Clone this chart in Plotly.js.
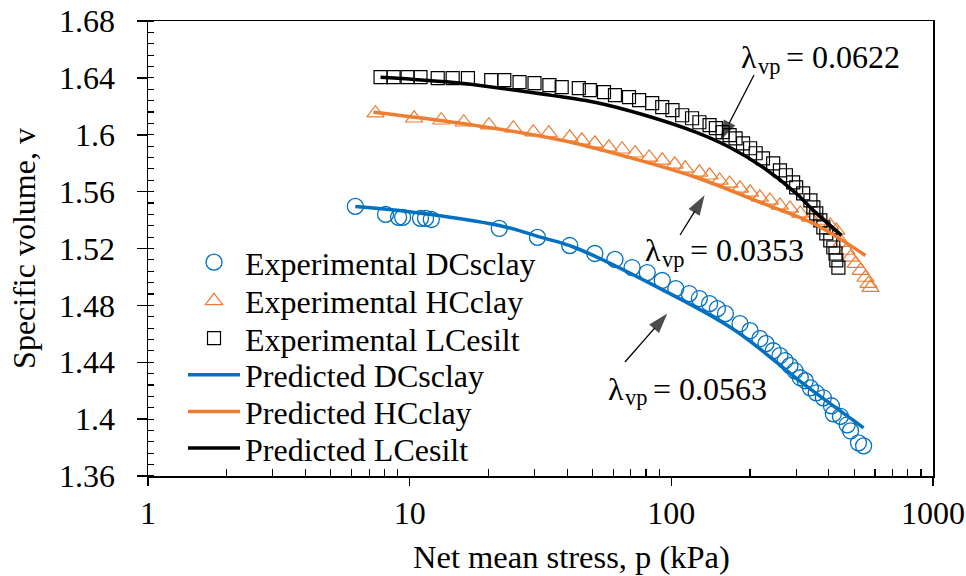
<!DOCTYPE html>
<html>
<head>
<meta charset="utf-8">
<script src="https://cdn.plot.ly/plotly-3.0.1.min.js"></script>
<style>html,body{margin:0;padding:0;background:#fff}</style>
</head>
<body>
<div id="chart" style="width:966px;height:576px"></div>
<script>
// ---- Data ----
const pDCexp = [6.20, 8.09, 9.07, 9.40, 11.0, 11.5, 12.1, 22.0, 30.8, 40.9, 51.0, 60.9, 70.8, 80.9, 92.3, 104, 117, 128, 140, 150, 161, 183, 200, 218, 230, 245, 260, 272, 284, 297, 311, 325, 340, 358, 381, 409, 416, 443, 470, 484, 519, 543];
const vDCexp = [1.5496, 1.5440, 1.5419, 1.5419, 1.5412, 1.5412, 1.5404, 1.5341, 1.5278, 1.5221, 1.5165, 1.5123, 1.5066, 1.5031, 1.4975, 1.4918, 1.4883, 1.4848, 1.4812, 1.4777, 1.4742, 1.4671, 1.4622, 1.4566, 1.4531, 1.4481, 1.4446, 1.4411, 1.4376, 1.4340, 1.4291, 1.4270, 1.4220, 1.4185, 1.4150, 1.4094, 1.4037, 1.4020, 1.3960, 1.3917, 1.3833, 1.3812];

const pHCexp = [7.40, 10.4, 13.2, 16.1, 20.1, 24.9, 29.7, 34.0, 40.9, 45.5, 51.0, 57.7, 64.8, 72.7, 82.3, 92.3, 103, 113, 128, 140, 153, 167, 183, 200, 218, 238, 260, 284, 311, 340, 371, 405, 427, 447, 467, 484, 506, 529, 552, 567, 577];
const vHCexp = [1.6152, 1.6116, 1.6102, 1.6088, 1.6067, 1.6046, 1.6018, 1.6011, 1.5982, 1.5961, 1.5940, 1.5912, 1.5898, 1.5870, 1.5841, 1.5820, 1.5792, 1.5764, 1.5736, 1.5715, 1.5679, 1.5658, 1.5623, 1.5595, 1.5560, 1.5538, 1.5503, 1.5482, 1.5447, 1.5419, 1.5397, 1.5362, 1.5327, 1.5242, 1.5186, 1.5137, 1.5094, 1.5045, 1.4996, 1.4953, 1.4925];

const pLCexp = [7.74, 8.68, 9.82, 11.0, 12.8, 14.6, 16.7, 20.5, 23.0, 26.3, 30.0, 34.2, 38.1, 44.3, 48.8, 55.3, 60.9, 68.9, 75.3, 84.5, 92.3, 101, 110, 120, 128, 140, 148, 157, 167, 176, 188, 200, 210, 224, 245, 260, 274, 292, 300, 319, 340, 349, 358, 371, 381, 391, 405, 416, 424, 427, 435];
const vLCexp = [1.6405, 1.6405, 1.6405, 1.6405, 1.6398, 1.6398, 1.6398, 1.6384, 1.6384, 1.6370, 1.6363, 1.6349, 1.6335, 1.6328, 1.6314, 1.6300, 1.6278, 1.6264, 1.6243, 1.6222, 1.6194, 1.6173, 1.6137, 1.6116, 1.6088, 1.6067, 1.6046, 1.6018, 1.5997, 1.5975, 1.5940, 1.5905, 1.5870, 1.5834, 1.5799, 1.5750, 1.5715, 1.5665, 1.5630, 1.5588, 1.5538, 1.5489, 1.5447, 1.5398, 1.5348, 1.5306, 1.5257, 1.5207, 1.5165, 1.5116, 1.5066];

const pDCpred = [6.2, 9.8, 22.0, 31.9, 42.7, 90.7, 176, 319, 543];
const vDCpred = [1.5496, 1.5461, 1.5362, 1.5278, 1.5207, 1.4918, 1.4622, 1.4249, 1.3939];

const pHCpred = [7.27, 15.7, 38.1, 68.9, 124, 224, 349, 552];
const vHCpred = [1.6159, 1.6081, 1.5961, 1.5841, 1.5701, 1.5517, 1.5376, 1.5151];

const pLCpred = [7.74, 15.7, 28.4, 51.0, 79.4, 124, 167, 224, 300, 349, 447];
const vLCpred = [1.6405, 1.6363, 1.6300, 1.6229, 1.6137, 1.6018, 1.5912, 1.5771, 1.5588, 1.5468, 1.5292];

const seriesNames = ['Experimental DCsclay', 'Experimental HCclay', 'Experimental LCesilt',
                     'Predicted DCsclay', 'Predicted HCclay', 'Predicted LCesilt'];

const yTickVals = [1.36, 1.40, 1.44, 1.48, 1.52, 1.56, 1.60, 1.64, 1.68];
const yTickText = ['1.36', '1.4', '1.44', '1.48', '1.52', '1.56', '1.6', '1.64', '1.68'];
const xTickVals = [1, 10, 100, 1000];
const xTickText = ['1', '10', '100', '1000'];
const xMinorVals = [2, 3, 4, 5, 6, 7, 8, 9, 20, 30, 40, 50, 60, 70, 80, 90, 200, 300, 400, 500, 600, 700, 800, 900];

const xTitle = 'Net mean stress, p (kPa)';
const yTitle = 'Specific volume, v';

// slope labels: λ + subscript "vp" + value
const lambdaSym = ['λ', 'λ', 'λ'];
const lambdaSub = ['vp', 'vp', 'vp'];
const lambdaVal = ['= 0.0622', '= 0.0353', '= 0.0563'];
const lambdaP = [181, 78.1, 56.3];
const lambdaV = [1.6546, 1.5186, 1.4213];
// arrows pointing at the predicted curves (tail -> tip)
const arrowTailP = [207, 108, 66.5];
const arrowTailV = [1.6420, 1.5295, 1.4402];
const arrowTipP = [154, 134, 96.5];
const arrowTipV = [1.5961, 1.5574, 1.4742];

// ---- Styling ----
const FONT = 'Liberation Serif, Times New Roman, serif';
const BLUE = '#0070C0', ORANGE = '#ED7D31', BLACK = '#000000';

// legend rows (one single-entry legend per row so the row pitch matches the reference)
const legendIds = ['legend', 'legend2', 'legend3', 'legend4', 'legend5', 'legend6'];
const legendRowY = [0.5300, 0.4451, 0.3631, 0.2824, 0.2018, 0.1213];

const traces = [
  {x: pDCexp, y: vDCexp, name: seriesNames[0], type: 'scatter', mode: 'markers', legend: legendIds[0],
   marker: {symbol: 'circle-open', size: 16, color: BLUE, line: {width: 1.3, color: BLUE}}},
  {x: pHCexp, y: vHCexp, name: seriesNames[1], type: 'scatter', mode: 'markers', legend: legendIds[1],
   marker: {symbol: 'triangle-up-open', size: 15, color: ORANGE, line: {width: 1.2, color: ORANGE}}},
  {x: pLCexp, y: vLCexp, name: seriesNames[2], type: 'scatter', mode: 'markers', legend: legendIds[2],
   marker: {symbol: 'square-open', size: 13, color: BLACK, line: {width: 1.2, color: BLACK}}},
  {x: pDCpred, y: vDCpred, name: seriesNames[3], type: 'scatter', mode: 'lines', legend: legendIds[3],
   line: {color: BLUE, width: 3.5, shape: 'spline', smoothing: 1}},
  {x: pHCpred, y: vHCpred, name: seriesNames[4], type: 'scatter', mode: 'lines', legend: legendIds[4],
   line: {color: ORANGE, width: 3.5, shape: 'spline', smoothing: 1}},
  {x: pLCpred, y: vLCpred, name: seriesNames[5], type: 'scatter', mode: 'lines', legend: legendIds[5],
   line: {color: BLACK, width: 3.5, shape: 'spline', smoothing: 1}}
];

// arrow traces: a thin line with an arrow-head marker at the tip
for (let i = 0; i < arrowTipP.length; i++) {
  traces.push({
    x: [arrowTailP[i], arrowTipP[i]], y: [arrowTailV[i], arrowTipV[i]],
    type: 'scatter', mode: 'lines+markers', showlegend: false, hoverinfo: 'skip',
    line: {color: BLACK, width: 1.3},
    marker: {symbol: 'arrow', angleref: 'previous', size: [0, 21], color: BLACK,
             line: {width: 0}}
  });
}

const annotations = [];
for (let i = 0; i < lambdaSym.length; i++) {
  const base = {x: Math.log10(lambdaP[i]), y: lambdaV[i], xref: 'x', yref: 'y',
                showarrow: false, xanchor: 'left', yanchor: 'middle'};
  annotations.push(Object.assign({}, base, {
    text: lambdaSym[i], font: {family: FONT, size: 32, color: '#000'}}));
  annotations.push(Object.assign({}, base, {
    text: lambdaSub[i], xshift: 17, yshift: -9,
    font: {family: FONT, size: 22.4, color: '#000'}}));
  annotations.push(Object.assign({}, base, {
    text: lambdaVal[i], xshift: 45,
    font: {family: FONT, size: 32, color: '#000'}}));
}
// x-axis title (placed slightly right of centre, as in the reference)
annotations.push({
  x: 0.539, y: -0.178, xref: 'paper', yref: 'paper',
  text: xTitle, showarrow: false, xanchor: 'center', yanchor: 'middle',
  font: {family: FONT, size: 32.5, color: '#000'}
});

const layout = {
  width: 966, height: 576,
  margin: {l: 148, r: 33, t: 21, b: 100},
  paper_bgcolor: '#fff', plot_bgcolor: '#fff',
  font: {family: FONT, size: 30, color: '#000'},
  showlegend: true,
  xaxis: {
    type: 'log', range: [0, 3],
    tickmode: 'array', tickvals: xTickVals, ticktext: xTickText,
    ticks: 'outside', ticklen: 8, tickwidth: 1.5, tickcolor: '#000',
    ticklabelstandoff: 0,
    showline: true, linecolor: '#000', linewidth: 1.5, mirror: true,
    showgrid: false, zeroline: false,
    tickfont: {family: FONT, size: 32, color: '#000'},
    minor: {tickmode: 'array', tickvals: xMinorVals, ticks: 'inside', ticklen: 7,
            tickwidth: 1.2, tickcolor: '#000', showgrid: false}
  },
  yaxis: {
    range: [1.36, 1.68],
    tickmode: 'array', tickvals: yTickVals, ticktext: yTickText,
    ticks: 'outside', ticklen: 10, tickwidth: 1.5, tickcolor: '#000',
    ticklabelstandoff: 15,
    showline: true, linecolor: '#000', linewidth: 1.5, mirror: true,
    showgrid: false, zeroline: false,
    tickfont: {family: FONT, size: 32, color: '#000'},
    minor: {tickmode: 'linear', tick0: 1.36, dtick: 0.008, ticks: 'inside', ticklen: 6,
            tickwidth: 1.2, tickcolor: '#000', showgrid: false},
    title: {text: yTitle, standoff: 14,
            font: {family: FONT, size: 32, color: '#000'}}
  },
  annotations: annotations
};

legendIds.forEach((id, i) => {
  layout[id] = {
    x: 0.0446, y: legendRowY[i], xanchor: 'left', yanchor: 'top',
    bgcolor: 'rgba(0,0,0,0)', borderwidth: 0, itemwidth: 52,
    font: {family: FONT, size: 32, color: '#000'}
  };
});

Plotly.newPlot('chart', traces, layout, {displayModeBar: false, staticPlot: true});
</script>
</body>
</html>
